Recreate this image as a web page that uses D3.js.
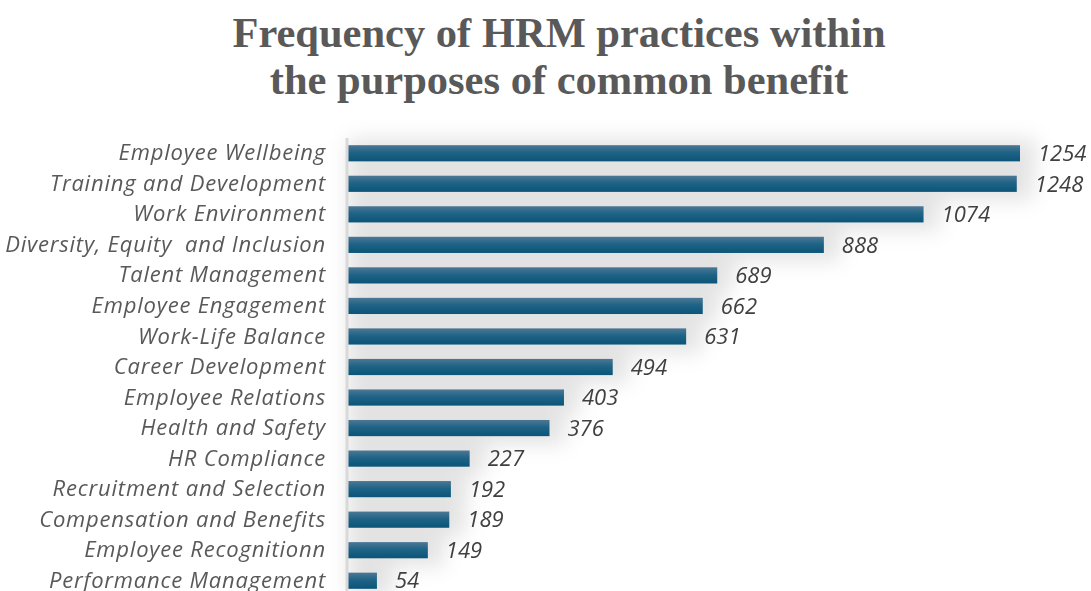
<!DOCTYPE html>
<html>
<head>
<meta charset="utf-8">
<script src="https://cdn.jsdelivr.net/npm/d3@7"></script>
<style>
  html, body { margin: 0; padding: 0; background: #ffffff; }
  svg { display: block; }
  text { white-space: pre; }
</style>
</head>
<body>
<svg id="chart" width="1091" height="591"></svg>
<script>
// HRM practice categories and their frequency counts
const categories = [
  "Employee Wellbeing",
  "Training and Development",
  "Work Environment",
  "Diversity, Equity  and Inclusion",
  "Talent Management",
  "Employee Engagement",
  "Work-Life Balance",
  "Career Development",
  "Employee Relations",
  "Health and Safety",
  "HR Compliance",
  "Recruitment and Selection",
  "Compensation and Benefits",
  "Employee Recognitionn",
  "Performance Management"
];
const frequencies = [1254, 1248, 1074, 888, 689, 662, 631, 494, 403, 376, 227, 192, 189, 149, 54];
const titleLines = ["Frequency of HRM practices within", "the purposes of common benefit"];

const W = 1091, H = 591;
const svg = d3.select("#chart");

const data = categories.map((c, i) => ({ name: c, value: frequencies[i] }));

const x = d3.scaleLinear().domain([0, 1254]).range([348, 1020]);
const y = d3.scaleBand().domain(categories).range([138, 596]).paddingInner(0.47).paddingOuter(0.235);

const defs = svg.append("defs");
const grad = defs.append("linearGradient")
  .attr("id", "barGrad").attr("x1", 0).attr("y1", 0).attr("x2", 0).attr("y2", 1);
grad.append("stop").attr("offset", "0%").attr("stop-color", "#4d7895");
grad.append("stop").attr("offset", "45%").attr("stop-color", "#1f6386");
grad.append("stop").attr("offset", "100%").attr("stop-color", "#0a5578");

const glow = defs.append("filter").attr("id", "glow")
  .attr("x", "-10%").attr("y", "-150%").attr("width", "130%").attr("height", "400%");
glow.append("feGaussianBlur").attr("stdDeviation", 10);

// Title
svg.append("g").selectAll("text")
  .data(titleLines)
  .join("text")
  .attr("x", 559)
  .attr("y", (d, i) => 47 + i * 47)
  .attr("text-anchor", "middle")
  .attr("font-family", "'Liberation Serif', 'Times New Roman', serif")
  .attr("font-weight", "bold")
  .attr("font-size", 42.5)
  .attr("fill", "#595959")
  .text(d => d);

// Soft shadow behind the bars
svg.append("g").attr("filter", "url(#glow)")
  .selectAll("rect")
  .data(data)
  .join("rect")
  .attr("x", x(0))
  .attr("y", d => y(d.name) - 6)
  .attr("width", d => x(d.value) - x(0) + 16)
  .attr("height", y.bandwidth() + 14)
  .attr("fill", "#000000")
  .attr("opacity", 0.11);

// Bars
svg.append("g")
  .selectAll("rect")
  .data(data)
  .join("rect")
  .attr("x", x(0))
  .attr("y", d => y(d.name))
  .attr("width", d => x(d.value) - x(0))
  .attr("height", y.bandwidth())
  .attr("fill", "url(#barGrad)");

// Category axis
const axis = svg.append("g")
  .attr("transform", `translate(${x(0) - 1},0)`)
  .call(d3.axisLeft(y).tickSize(0).tickPadding(21));
axis.select(".domain").attr("stroke", "#d9d9d9").attr("stroke-width", 3)
  .attr("d", `M0,138V${H}`);
axis.selectAll("text")
  .attr("font-family", "'Open Sans', 'Noto Sans', sans-serif")
  .attr("font-style", "italic")
  .attr("font-size", 22)
  .attr("letter-spacing", 0.8)
  .attr("fill", "#595959");

// Value labels
svg.append("g")
  .selectAll("text")
  .data(data)
  .join("text")
  .attr("x", d => x(d.value) + 18)
  .attr("y", d => y(d.name) + y.bandwidth() / 2)
  .attr("dy", "0.35em")
  .attr("font-family", "'Open Sans', 'Noto Sans', sans-serif")
  .attr("font-style", "italic")
  .attr("font-size", 22)
  .attr("fill", "#404040")
  .text(d => d.value);
</script>
</body>
</html>
